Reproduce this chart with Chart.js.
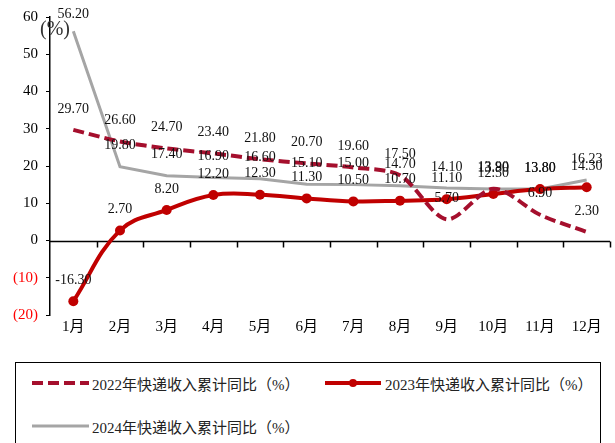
<!DOCTYPE html>
<html>
<head>
<meta charset="utf-8">
<script src="https://cdn.jsdelivr.net/npm/chart.js@4"></script>
<style>
  html, body { margin: 0; padding: 0; background: #fff; }
  #wrap { position: relative; width: 615px; height: 443px; overflow: hidden; }
  #chart-box { position: absolute; left: 0; top: 0; width: 615px; height: 345px; }
  #legend {
    position: absolute; left: 15px; top: 362px; width: 586px; height: 120px;
    border: 1px solid #000; box-sizing: border-box;
  }
  .item { position: absolute; display: flex; align-items: center; height: 20px;
    font: 15px "Liberation Serif", "Noto Sans CJK SC", serif; color: #222; white-space: nowrap; }
  .item svg { margin-right: 3px; }
</style>
</head>
<body>
<div id="wrap">
  <div id="chart-box"><canvas id="chart-express"></canvas></div>
  <div id="legend">
    <div class="item" style="left:16px; top:10px;">
      <svg width="57" height="8"><line x1="0" y1="4" x2="57" y2="4" stroke="#A50F2D" stroke-width="4" stroke-dasharray="11,5"/></svg>
      <span>2022年快递收入累计同比（%）</span>
    </div>
    <div class="item" style="left:309px; top:10px;">
      <svg width="57" height="10"><line x1="0" y1="5" x2="56" y2="5" stroke="#C00000" stroke-width="4"/><circle cx="28" cy="5" r="4" fill="#C00000"/></svg>
      <span>2023年快递收入累计同比（%）</span>
    </div>
    <div class="item" style="left:16px; top:53px;">
      <svg width="57" height="8"><line x1="0" y1="4" x2="57" y2="4" stroke="#A5A5A5" stroke-width="3"/></svg>
      <span>2024年快递收入累计同比（%）</span>
    </div>
  </div>
</div>
<script>
// Cumulative year-on-year growth of express delivery revenue, by month (%)
const MONTHS = ["1月", "2月", "3月", "4月", "5月", "6月", "7月", "8月", "9月", "10月", "11月", "12月"];
const YOY_2022 = [29.7, 26.6, 24.7, 23.4, 21.8, 20.7, 19.6, 17.5, 5.7, 13.9, 6.9, 2.3];
const YOY_2023 = [-16.3, 2.7, 8.2, 12.2, 12.3, 11.3, 10.5, 10.7, 11.1, 12.5, 13.8, 14.3];
const YOY_2024 = [56.2, 19.8, 17.4, 16.9, 16.6, 15.1, 15.0, 14.7, 14.1, 13.8, 13.8, 16.23];
const Y_MIN = -20, Y_MAX = 60, Y_STEP = 10;

const SERIF = '"Liberation Serif", "Noto Sans CJK SC", serif';
const COLORS = { y2022: "#A50F2D", y2023: "#C00000", y2024: "#A5A5A5", ink: "#000", neg: "#FF0000" };

// value labels above every point
const valueLabels = {
  id: "valueLabels",
  afterDatasetsDraw(chart) {
    const ctx = chart.ctx;
    ctx.save();
    ctx.font = "14px " + SERIF;
    ctx.fillStyle = "#111";
    ctx.textAlign = "center";
    ctx.textBaseline = "middle";
    chart.data.datasets.forEach((ds, i) => {
      chart.getDatasetMeta(i).data.forEach((pt, j) => {
        const y = Math.max(pt.y - 21, 14);
        ctx.fillText(ds.data[j].toFixed(2), pt.x, y);
      });
    });
    ctx.restore();
  }
};

// zero baseline with category tick marks, plus the unit caption
const zeroAxis = {
  id: "zeroAxis",
  beforeDatasetsDraw(chart) {
    const { ctx, chartArea, scales } = chart;
    const y0 = Math.round(scales.y.getPixelForValue(0)) + 0.5;
    ctx.save();
    ctx.strokeStyle = COLORS.ink;
    ctx.lineWidth = 1.5;
    ctx.beginPath();
    ctx.moveTo(chartArea.left, y0);
    ctx.lineTo(chartArea.right, y0);
    for (let i = 1; i <= MONTHS.length; i++) {
      const x = i < MONTHS.length
        ? (scales.x.getPixelForValue(i - 1) + scales.x.getPixelForValue(i)) / 2
        : chartArea.right;
      ctx.moveTo(Math.round(x) + 0.5, y0);
      ctx.lineTo(Math.round(x) + 0.5, y0 + 6);
    }
    ctx.stroke();
    ctx.font = "20px " + SERIF;
    ctx.fillStyle = "#333";
    ctx.textAlign = "center";
    ctx.textBaseline = "middle";
    ctx.fillText("(%)", chartArea.left + 5, 30);
    ctx.restore();
  }
};

new Chart(document.getElementById("chart-express"), {
  type: "line",
  data: {
    labels: MONTHS,
    datasets: [
      { label: "2022年快递收入累计同比（%）", data: YOY_2022, borderColor: COLORS.y2022, backgroundColor: COLORS.y2022,
        borderWidth: 4, borderDash: [11, 5], pointRadius: 0, tension: 0.3 },
      { label: "2023年快递收入累计同比（%）", data: YOY_2023, borderColor: COLORS.y2023, backgroundColor: COLORS.y2023,
        borderWidth: 4, pointRadius: 5, pointBorderWidth: 0, tension: 0.4 },
      { label: "2024年快递收入累计同比（%）", data: YOY_2024, borderColor: COLORS.y2024, backgroundColor: COLORS.y2024,
        borderWidth: 3, pointRadius: 0, tension: 0 }
    ]
  },
  options: {
    responsive: true, maintainAspectRatio: false, animation: false,
    layout: { padding: { left: 0, right: 5, top: 16, bottom: 6 } },
    plugins: { legend: { display: false }, tooltip: { enabled: false } },
    scales: {
      x: {
        offset: true,
        grid: { display: false, drawTicks: false },
        border: { display: false },
        ticks: { color: COLORS.ink, font: { family: SERIF, size: 15 }, padding: 3, maxRotation: 0, autoSkip: false }
      },
      y: {
        min: Y_MIN, max: Y_MAX,
        afterFit: (s) => { s.width = 50; },
        grid: { drawOnChartArea: false, tickLength: 4, color: COLORS.ink },
        border: { display: true, color: COLORS.ink, width: 1.5 },
        ticks: {
          stepSize: Y_STEP, padding: 8,
          font: { family: SERIF, size: 15 },
          color: (c) => c.tick.value < 0 ? COLORS.neg : COLORS.ink,
          callback: (v) => v < 0 ? "(" + (-v) + ")" : String(v)
        }
      }
    }
  },
  plugins: [zeroAxis, valueLabels]
});
</script>
</body>
</html>
